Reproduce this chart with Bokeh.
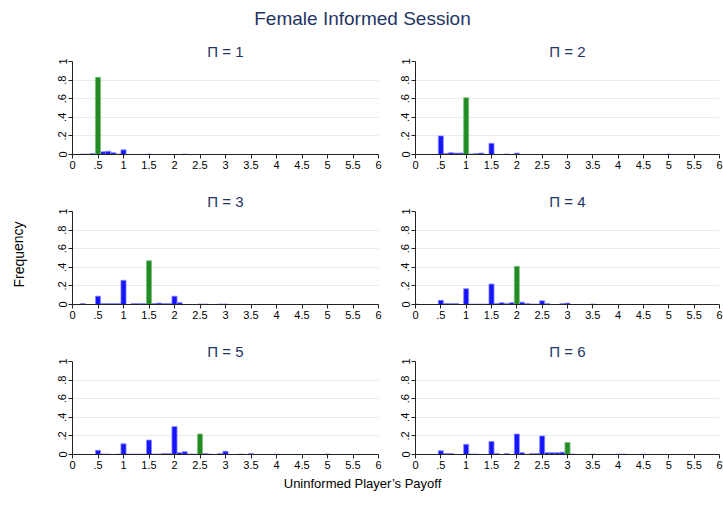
from bokeh.plotting import figure
from bokeh.layouts import column, row
from bokeh.models import FixedTicker, Range1d
from bokeh.embed import file_html
from bokeh.resources import INLINE
from bokeh.core.properties import value

# ---------------- data ----------------
chart_title = "Female Informed Session"
y_label = "Frequency"
x_label = "Uninformed Player\u2019s Payoff"
panel_titles = ["\u03a0 = 1", "\u03a0 = 2", "\u03a0 = 3", "\u03a0 = 4", "\u03a0 = 5", "\u03a0 = 6"]

x_ticks = [0, 0.5, 1, 1.5, 2, 2.5, 3, 3.5, 4, 4.5, 5, 5.5, 6]
x_tick_labels = ["0", ".5", "1", "1.5", "2", "2.5", "3", "3.5", "4", "4.5", "5", "5.5", "6"]
y_ticks = [0, 0.2, 0.4, 0.6, 0.8, 1]
y_tick_labels = ["0", ".2", ".4", ".6", ".8", "1"]

# Pi = 1
p1_blue_x = [0.2, 0.3, 0.4, 0.6, 0.7, 0.8, 0.9, 1.0, 1.5, 2.2]
p1_blue_y = [0.005, 0.005, 0.01, 0.03, 0.035, 0.02, 0.005, 0.05, 0.005, 0.005]
p1_green_x = [0.5]
p1_green_y = [0.83]
# Pi = 2
p2_blue_x = [0.5, 0.6, 0.7, 0.8, 0.9, 1.1, 1.2, 1.3, 1.5, 1.8, 2.0, 5.0]
p2_blue_y = [0.20, 0.01, 0.02, 0.015, 0.015, 0.005, 0.01, 0.015, 0.12, 0.005, 0.015, 0.005]
p2_green_x = [1.0]
p2_green_y = [0.61]
# Pi = 3
p3_blue_x = [0.2, 0.5, 0.6, 0.7, 0.8, 0.9, 1.0, 1.2, 1.3, 1.4, 1.6, 1.7, 1.8, 1.9, 2.0, 2.1, 2.5, 2.6, 2.9, 3.0]
p3_blue_y = [0.01, 0.09, 0.01, 0.01, 0.01, 0.01, 0.26, 0.01, 0.01, 0.01, 0.01, 0.015, 0.01, 0.01, 0.09, 0.02, 0.005, 0.005, 0.005, 0.005]
p3_green_x = [1.5]
p3_green_y = [0.47]
# Pi = 4
p4_blue_x = [0.0, 0.5, 0.6, 0.7, 0.8, 1.0, 1.1, 1.2, 1.3, 1.4, 1.5, 1.6, 1.7, 1.8, 1.9, 2.1, 2.2, 2.3, 2.4, 2.5, 2.6, 2.9, 3.0, 3.5]
p4_blue_y = [0.005, 0.045, 0.01, 0.01, 0.01, 0.17, 0.005, 0.005, 0.005, 0.005, 0.22, 0.01, 0.02, 0.01, 0.02, 0.025, 0.01, 0.005, 0.005, 0.04, 0.01, 0.01, 0.015, 0.005]
p4_green_x = [2.0]
p4_green_y = [0.41]
# Pi = 5
p5_blue_x = [0.5, 0.6, 0.7, 0.9, 1.0, 1.1, 1.2, 1.3, 1.4, 1.5, 1.6, 1.7, 1.8, 1.9, 2.0, 2.1, 2.2, 2.3, 2.4, 2.6, 2.7, 2.9, 3.0, 3.3, 3.5, 4.0, 5.0]
p5_blue_y = [0.045, 0.005, 0.005, 0.005, 0.115, 0.005, 0.005, 0.005, 0.005, 0.155, 0.005, 0.005, 0.01, 0.01, 0.30, 0.02, 0.03, 0.005, 0.005, 0.01, 0.005, 0.01, 0.035, 0.005, 0.01, 0.005, 0.005]
p5_green_x = [2.5]
p5_green_y = [0.22]
# Pi = 6
p6_blue_x = [0.5, 0.6, 0.7, 1.0, 1.1, 1.2, 1.5, 1.6, 1.8, 2.0, 2.1, 2.3, 2.4, 2.5, 2.6, 2.7, 2.8, 2.9, 3.1, 3.5, 4.0, 4.1, 4.5]
p6_blue_y = [0.04, 0.01, 0.01, 0.11, 0.005, 0.005, 0.14, 0.01, 0.01, 0.22, 0.02, 0.01, 0.01, 0.20, 0.02, 0.02, 0.02, 0.025, 0.005, 0.005, 0.005, 0.005, 0.005]
p6_green_x = [3.0]
p6_green_y = [0.13]

panels = [
    (p1_blue_x, p1_blue_y, p1_green_x, p1_green_y),
    (p2_blue_x, p2_blue_y, p2_green_x, p2_green_y),
    (p3_blue_x, p3_blue_y, p3_green_x, p3_green_y),
    (p4_blue_x, p4_blue_y, p4_green_x, p4_green_y),
    (p5_blue_x, p5_blue_y, p5_green_x, p5_green_y),
    (p6_blue_x, p6_blue_y, p6_green_x, p6_green_y),
]

# ---------------- style ----------------
FONT = "Liberation Sans"
NAVY = "#1f3566"
BLUE_FILL = "#1414ff"
BLUE_LINE = "#8c8cff"
GREEN_FILL = "#238b23"
GREEN_LINE = "#7cc07c"
GRID = "#e4ecee"
BAR_W = 0.1


def make_panel(i, data):
    bx, by, gx, gy = data
    left_col = (i % 2 == 0)
    last_row = (i >= 4)
    p = figure(
        frame_width=306 if left_col else 304,
        frame_height=93,
        min_border_left=32 if left_col else 30,
        min_border_right=7 if left_col else 4,
        min_border_top=26,
        min_border_bottom=22 if last_row else 31,
        x_range=Range1d(0, 6), y_range=Range1d(0, 1),
        output_backend="svg", toolbar_location=None,
        title=panel_titles[i],
    )
    p.title.align = "center"
    p.title.text_font = FONT
    p.title.text_font_size = "15px"
    p.title.text_font_style = "normal"
    p.title.text_color = NAVY
    p.title.standoff = 3
    p.outline_line_color = None
    p.background_fill_color = "white"
    p.border_fill_color = "white"

    p.vbar(x=bx, top=by, width=BAR_W, fill_color=BLUE_FILL, line_color=BLUE_LINE, line_width=0.8)
    p.vbar(x=gx, top=gy, width=BAR_W, fill_color=GREEN_FILL, line_color=GREEN_LINE, line_width=0.8)

    p.xgrid.visible = False
    p.ygrid.ticker = FixedTicker(ticks=[0.2, 0.4, 0.6, 0.8])
    p.ygrid.grid_line_color = GRID
    p.ygrid.grid_line_width = 1

    p.xaxis.ticker = FixedTicker(ticks=x_ticks)
    p.xaxis.major_label_overrides = {t: l for t, l in zip(x_ticks, x_tick_labels)}
    p.yaxis.ticker = FixedTicker(ticks=y_ticks)
    p.yaxis.major_label_overrides = {t: l for t, l in zip(y_ticks, y_tick_labels)}
    p.yaxis.major_label_orientation = "vertical"
    for ax in (p.xaxis, p.yaxis):
        ax.major_label_text_font = FONT
        ax.major_label_text_font_size = "11px"
        ax.major_label_text_color = "black"
        ax.axis_line_color = "#222222"
        ax.major_tick_line_color = "#222222"
        ax.major_tick_in = 0
        ax.major_tick_out = 4
        ax.minor_tick_line_color = None
        ax.major_label_standoff = 2
    return p


figs = [make_panel(i, d) for i, d in enumerate(panels)]

# title strip
t = figure(width=723, height=35, x_range=Range1d(0, 723), y_range=Range1d(0, 35),
           output_backend="svg", toolbar_location=None, min_border=0)
t.axis.visible = False
t.grid.visible = False
t.outline_line_color = None
t.text(x=[362], y=[17], text=[chart_title], text_align="center", text_baseline="middle",
       text_font=value(FONT), text_font_size="19px", text_color=NAVY)

# y label strip
yl = figure(width=40, height=441, x_range=Range1d(0, 40), y_range=Range1d(0, 441),
            output_backend="svg", toolbar_location=None, min_border=0)
yl.axis.visible = False
yl.grid.visible = False
yl.outline_line_color = None
yl.text(x=[18], y=[222], text=[y_label], angle=1.5708, text_align="center", text_baseline="middle",
        text_font=value(FONT), text_font_size="14px", text_color="black")

# x label strip
xl = figure(width=723, height=39, x_range=Range1d(0, 723), y_range=Range1d(0, 39),
            output_backend="svg", toolbar_location=None, min_border=0)
xl.axis.visible = False
xl.grid.visible = False
xl.outline_line_color = None
xl.text(x=[362], y=[32], text=[x_label], text_align="center", text_baseline="middle",
        text_font=value(FONT), text_font_size="13px", text_color="black")

grid = column(row(figs[0], figs[1]), row(figs[2], figs[3]), row(figs[4], figs[5]), spacing=0)
layout = column(t, row(yl, grid, spacing=0), xl, spacing=0)

open("out.html", "w").write(file_html(layout, INLINE))
